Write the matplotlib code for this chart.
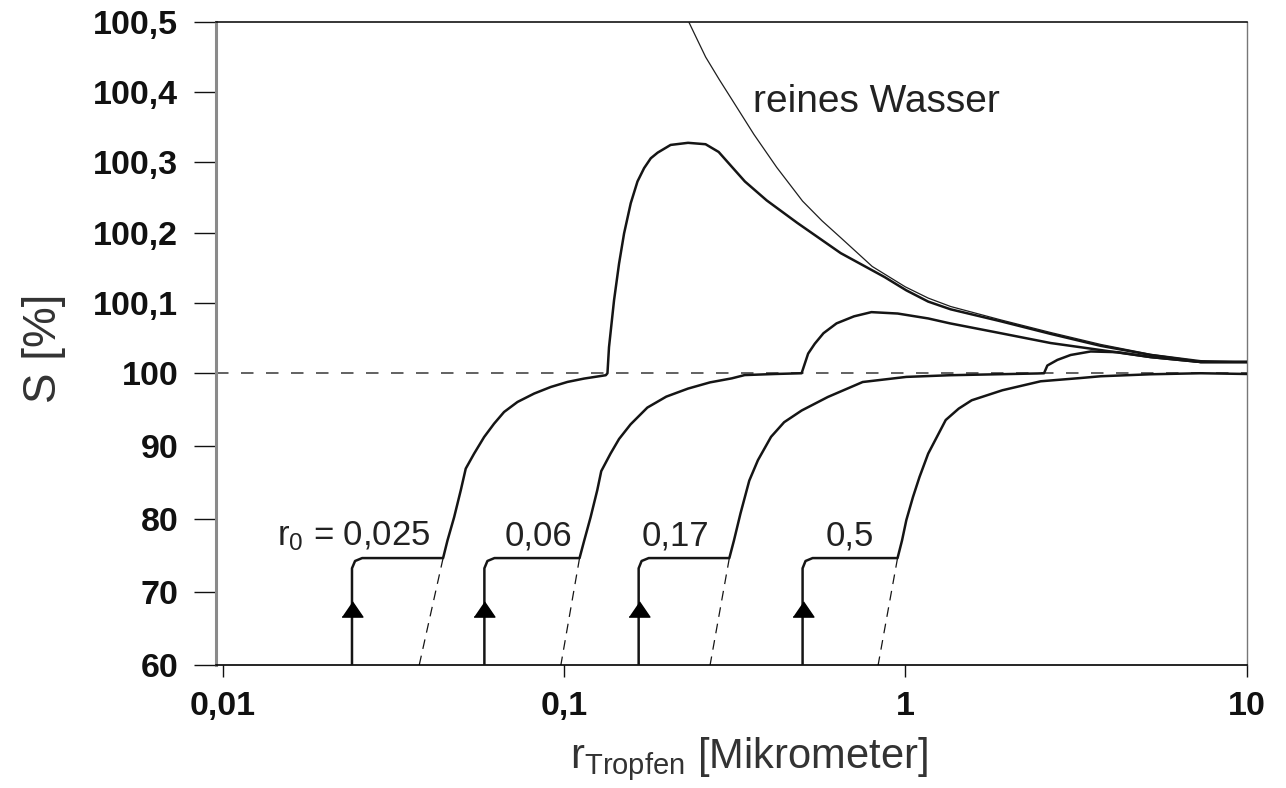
import numpy as np
import matplotlib
matplotlib.use("Agg")
import matplotlib.pyplot as plt
from matplotlib.ticker import NullLocator

plt.rcParams['font.family'] = ['Liberation Sans', 'DejaVu Sans']
plt.rcParams['lines.scale_dashes'] = False

# --- Daten ---
# reines Wasser (Kelvin-Kurve)
r_wasser = [0.232, 0.245, 0.26, 0.285, 0.31, 0.36, 0.42, 0.50, 0.57, 0.65, 0.80, 1.0, 1.167, 1.358,
            1.903, 2.667, 3.74, 5.236, 7.34, 10]
s_wasser = [100.50, 100.476, 100.45, 100.418, 100.39, 100.34, 100.293, 100.245, 100.217, 100.192,
            100.152, 100.123, 100.107, 100.095, 100.076, 100.058, 100.041, 100.027, 100.018, 100.016]

# Koehler-Kurven fuer die vier Kernradien
r_k1 = [0.0239, 0.0239, 0.0244, 0.0256, 0.0442, 0.04552, 0.04762, 0.04981, 0.0515, 0.05449, 0.0583,
        0.06235, 0.0667, 0.07302, 0.0817, 0.0914, 0.1023, 0.1144, 0.1325, 0.134, 0.1354, 0.1401, 0.1449,
        0.1499, 0.1568, 0.1641, 0.1716, 0.1795, 0.188, 0.2052, 0.2308, 0.2598, 0.2838, 0.31, 0.3387,
        0.3925, 0.4825, 0.6466, 0.8689, 1.007, 1.167, 1.358, 1.903, 2.667, 3.74, 5.236, 7.34, 10]
s_k1 = [60, 73.3, 74.3, 74.7, 74.7, 77.1, 80.3, 84.0, 86.95, 89.0, 91.27,
        93.1, 94.7, 96.07, 97.22, 98.12, 98.81, 99.27, 99.73, 100.0, 100.037, 100.104, 100.156,
        100.199, 100.242, 100.273, 100.292, 100.306, 100.314, 100.325, 100.328, 100.326, 100.315,
        100.294, 100.273, 100.246, 100.214, 100.171, 100.137, 100.118, 100.102, 100.091, 100.074,
        100.056, 100.039, 100.026, 100.016, 100.016]

r_k2 = [0.0584, 0.0584, 0.0596, 0.0625, 0.111, 0.1144, 0.1196, 0.1251, 0.1285, 0.1368, 0.1449, 0.1566,
        0.1754, 0.1993, 0.2308, 0.2677, 0.31, 0.3383, 0.4163, 0.4967, 0.5191, 0.5428, 0.5757, 0.6288,
        0.7074, 0.7955, 0.95, 1.167, 1.352, 1.903, 2.667, 3.74, 5.236, 7.34, 10]
s_k2 = [60, 73.3, 74.3, 74.7, 74.7, 77.0, 80.3, 84.0, 86.6, 89.0, 91.0, 93.0,
        95.3, 96.8, 97.9, 98.75, 99.3, 99.75, 99.9, 100.0, 100.028, 100.042, 100.057, 100.071,
        100.081, 100.087, 100.085, 100.078, 100.071, 100.057, 100.043, 100.033, 100.023, 100.016, 100.016]

r_k3 = [0.1654, 0.1654, 0.1687, 0.177, 0.305, 0.3146, 0.3288, 0.3489, 0.3699, 0.4042, 0.4415, 0.4969,
        0.5928, 0.75, 1.007, 1.352, 2.438, 2.55, 2.608, 2.791, 3.052, 3.493, 4.182, 5.236, 7.34, 10]
s_k3 = [60, 73.3, 74.3, 74.7, 74.7, 77.1, 80.8, 85.3, 88.1, 91.3, 93.3, 94.9,
        96.75, 98.8, 99.5, 99.73, 99.97, 100.0, 100.011, 100.019, 100.026, 100.031, 100.030, 100.023,
        100.016, 100.016]

r_k4 = [0.5, 0.5, 0.51, 0.535, 0.949, 0.978, 1.007, 1.053, 1.1006, 1.167, 1.3136, 1.434, 1.5652,
        1.925, 2.493, 3.272, 3.74, 5.236, 7.34, 10]
s_k4 = [60, 73.3, 74.3, 74.7, 74.7, 77.1, 79.9, 83.05, 85.8, 89.0, 93.6, 95.16, 96.3,
        97.67, 98.9, 99.35, 99.59, 99.86, 100.0, 99.9]

# gestrichelte Fortsetzung unterhalb des Plateaus
r_dash = [[0.0442, 0.0376], [0.111, 0.0978], [0.305, 0.2677], [0.949, 0.832]]
s_dash = [[74.7, 60], [74.7, 60], [74.7, 60], [74.7, 60]]

# Pfeile bei r0
r0_pfeil = [0.0239, 0.0584, 0.1654, 0.5]
s_pfeil = 67.7

# Beschriftungen
r0_texte = ['$\\mathregular{r_0}$ = 0,025', '0,06', '0,17', '0,5']
r0_text_r = [0.0407, 0.106, 0.2655, 0.808]
r0_text_s = 76.4

xticks = [0.01, 0.1, 1, 10]
xtick_labels = ['0,01', '0,1', '1', '10']
yticks = [60, 70, 80, 90, 100, 100.1, 100.2, 100.3, 100.4, 100.5]
ytick_labels = ['60', '70', '80', '90', '100', '100,1', '100,2', '100,3', '100,4', '100,5']


# y-Achse: bis 100 in 10er-Schritten, darueber in 0,1er-Schritten
def s_fwd(s):
    s = np.asarray(s, dtype=float)
    return np.where(s <= 100, (s - 60) * 7.3, 292 + (s - 100) * 702)


def s_inv(u):
    u = np.asarray(u, dtype=float)
    return np.where(u <= 292, 60 + u / 7.3, 100 + (u - 292) / 702)


fig = plt.figure(figsize=(12.86, 7.88), dpi=100)
ax = fig.add_axes([0.168, 0.1555, 0.8013, 0.8166])
ax.set_xscale('log')
ax.set_yscale('function', functions=(s_fwd, s_inv))
ax.set_xlim(0.00955, 10)
ax.set_ylim(60, 100.5)

# 100 %-Linie
ax.axhline(100, color='#555555', lw=1.3, dashes=(9, 9), zorder=1)

# Kurven
ax.plot(r_wasser, s_wasser, color='#1e1e1e', lw=0.9, zorder=3)
for r, s in [(r_k1, s_k1), (r_k2, s_k2), (r_k3, s_k3), (r_k4, s_k4)]:
    ax.plot(r, s, color='#151515', lw=1.8, solid_joinstyle='round', zorder=4)
for r, s in zip(r_dash, s_dash):
    ax.plot(r, s, color='#151515', lw=0.9, dashes=(7, 5), zorder=2)

pfeil = [(-1.0, -0.73), (1.0, -0.73), (0.0, 0.73)]
ax.plot(r0_pfeil, [s_pfeil] * len(r0_pfeil), ls='none', marker=pfeil,
        ms=15, color='black', zorder=5)

for txt, r in zip(r0_texte, r0_text_r):
    ax.text(r, r0_text_s, txt, ha='right', va='baseline', fontsize=25, color='#222222')

ax.text(0.357, 100.372, 'reines Wasser', ha='left', va='baseline', fontsize=28, color='#222222')

# Achsen
ax.set_xticks(xticks)
ax.set_xticklabels(xtick_labels, fontweight='bold')
ax.xaxis.set_minor_locator(NullLocator())
ax.set_yticks(yticks)
ax.set_yticklabels(ytick_labels, fontweight='bold')
ax.yaxis.set_minor_locator(NullLocator())
ax.tick_params(axis='y', length=15.8, width=1.0, pad=11.5, labelsize=24.5, colors='#111111')
ax.tick_params(axis='x', length=8.6, width=1.0, pad=9.5, labelsize=24.5, colors='#111111')

ax.set_ylabel('S [%]', fontsize=33, color='#333333')
ax.yaxis.set_label_coords(-0.146, 0.493)
ax.set_xlabel('$\\mathregular{r_{Tropfen}}$ [Mikrometer]', fontsize=30, color='#333333')
ax.xaxis.set_label_coords(0.517, -0.108)

ax.spines['left'].set_color('#8a8a8a')
ax.spines['left'].set_linewidth(2.2)
ax.spines['top'].set_linewidth(1.1)
ax.spines['bottom'].set_linewidth(1.2)
ax.spines['right'].set_color('#777777')
ax.spines['right'].set_linewidth(1.0)

fig.savefig('out.png', dpi=100)
